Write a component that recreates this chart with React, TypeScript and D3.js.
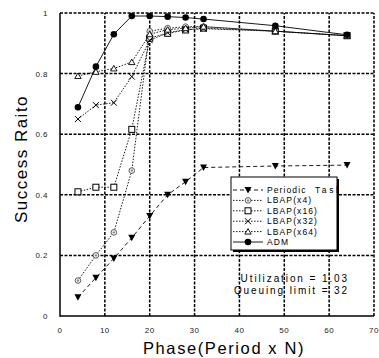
import React from "react";
import * as d3 from "d3";

const phases = [4, 8, 12, 16, 20, 24, 28, 32, 48, 64];
const periodicTask = [0.062, 0.126, 0.19, 0.258, 0.33, 0.4, 0.443, 0.49, 0.495, 0.498];
const lbapX4 = [0.117, 0.2, 0.276, 0.48, 0.94, 0.95, 0.955, 0.955, 0.94, 0.925];
const lbapX16 = [0.41, 0.425, 0.425, 0.616, 0.917, 0.933, 0.944, 0.95, 0.94, 0.925];
const lbapX32 = [0.65, 0.696, 0.704, 0.79, 0.91, 0.935, 0.945, 0.948, 0.94, 0.925];
const lbapX64 = [0.792, 0.806, 0.817, 0.838, 0.93, 0.945, 0.95, 0.955, 0.94, 0.925];
const adm = [0.689, 0.823, 0.93, 0.99, 0.99, 0.988, 0.985, 0.98, 0.958, 0.928];

const xTicks = [0, 10, 20, 30, 40, 50, 60, 70];
const yTicks = [0, 0.2, 0.4, 0.6, 0.8, 1];
const yTickLabels = ["0", "0.2", "0.4", "0.6", "0.8", "1"];

const seriesNames = ["Periodic Task", "LBAP(x4)", "LBAP(x16)", "LBAP(x32)", "LBAP(x64)", "ADM"];
const seriesValues = [periodicTask, lbapX4, lbapX16, lbapX32, lbapX64, adm];
const seriesMarkers = ["triDown", "circleDot", "square", "cross", "triUp", "circleFill"];
const seriesDash = ["4,3", "1.5,1.5", "1.5,1.5", "1.5,1.5", "1.5,1.5", null];

const FONT = "'Liberation Sans', Arial, sans-serif";

function Marker({ type, x, y }: { type: string; x: number; y: number }) {
  const s = 3;
  switch (type) {
    case "triDown":
      return <path d={`M${x - 3.5},${y - 3} L${x + 3.5},${y - 3} L${x},${y + 3.5} Z`} fill="#000" />;
    case "triUp":
      return <path d={`M${x - 3.2},${y + 2.5} L${x + 3.2},${y + 2.5} L${x},${y - 3} Z`} fill="#fff" stroke="#000" strokeWidth={0.9} />;
    case "square":
      return <rect x={x - s} y={y - s} width={2 * s} height={2 * s} fill="#fff" stroke="#000" strokeWidth={1} />;
    case "cross":
      return (
        <path d={`M${x - 3},${y - 3} L${x + 3},${y + 3} M${x - 3},${y + 3} L${x + 3},${y - 3}`} stroke="#000" strokeWidth={1} />
      );
    case "circleDot":
      return (
        <g>
          <circle cx={x} cy={y} r={2.8} fill="#fff" stroke="#555" strokeWidth={1} />
          <circle cx={x} cy={y} r={1.2} fill="#888" />
        </g>
      );
    case "circleFill":
    default:
      return <circle cx={x} cy={y} r={3.3} fill="#000" />;
  }
}

export default function App() {
  const width = 379;
  const height = 358;
  const x = d3.scaleLinear().domain([0, 70]).range([60, 374]);
  const y = d3.scaleLinear().domain([0, 1]).range([316, 13]);
  const line = d3
    .line<[number, number]>()
    .x((d) => x(d[0]))
    .y((d) => y(d[1]));

  const gridStyle = { stroke: "#000", strokeWidth: 1.5, strokeDasharray: "3,1.5" };

  const legendX = 231;
  const legendY = 177;
  const legendW = 106;
  const legendH = 73;
  const rowY = (i: number) => 190 + i * 10.4;

  return (
    <svg width={width} height={height} style={{ position: "absolute", left: 0, top: 0 }} fontFamily={FONT}>
      <rect x={0} y={0} width={width} height={height} fill="#fff" />
      <defs>
        <clipPath id="legendClip">
          <rect x={legendX} y={legendY} width={legendW} height={legendH} />
        </clipPath>
      </defs>

      {/* annotation text (under grid) */}
      <g fontSize={10} fill="#000" textAnchor="end" letterSpacing={1.9}>
        <text x={349} y={282}>Utilization = 1.03</text>
        <text x={349} y={294}>Queuing limit = 32</text>
      </g>

      {/* grid */}
      {xTicks.slice(1, -1).map((t) => (
        <line key={"gx" + t} x1={x(t)} x2={x(t)} y1={y(0)} y2={y(1)} {...gridStyle} />
      ))}
      {yTicks.slice(1, -1).map((t) => (
        <line key={"gy" + t} x1={x(0)} x2={x(70)} y1={y(t)} y2={y(t)} {...gridStyle} />
      ))}
      {/* frame */}
      <line x1={x(0)} x2={x(70)} y1={y(1)} y2={y(1)} {...gridStyle} />
      <line x1={x(70)} x2={x(70)} y1={y(0)} y2={y(1)} {...gridStyle} />
      <line x1={x(0)} x2={x(0)} y1={y(0) + 0.75} y2={y(1)} stroke="#000" strokeWidth={1.5} />
      <line x1={x(0)} x2={x(70)} y1={y(0)} y2={y(0)} stroke="#000" strokeWidth={1.5} />

      {/* tick labels */}
      <g fontSize={8} fill="#222" letterSpacing={0.5}>
        {yTicks.map((t, i) => (
          <text key={"yl" + t} x={48} y={y(t) + 3} textAnchor="end">
            {yTickLabels[i]}
          </text>
        ))}
        {xTicks.map((t) => (
          <text key={"xl" + t} x={x(t)} y={333} textAnchor="middle">
            {t}
          </text>
        ))}
      </g>

      {/* series */}
      {seriesValues.map((vals, si) => {
        const pts = phases.map((p, i) => [p, vals[i]] as [number, number]);
        return (
          <g key={"s" + si}>
            <path
              d={line(pts) || ""}
              fill="none"
              stroke="#000"
              strokeWidth={0.9}
              strokeDasharray={seriesDash[si] || undefined}
            />
            {pts.map((p, i) => (
              <Marker key={i} type={seriesMarkers[si]} x={x(p[0])} y={y(p[1])} />
            ))}
          </g>
        );
      })}

      {/* legend */}
      <rect x={legendX + 2} y={legendY + 2} width={legendW} height={legendH} fill="#000" />
      <rect x={legendX} y={legendY} width={legendW} height={legendH} fill="#fff" stroke="#000" strokeWidth={1} />
      <g clipPath="url(#legendClip)">
        {seriesNames.map((name, i) => {
          const words = name.split(" ");
          return (
            <g key={"lg" + i}>
              <line
                x1={233}
                x2={263}
                y1={rowY(i)}
                y2={rowY(i)}
                stroke="#000"
                strokeWidth={0.9}
                strokeDasharray={seriesDash[i] || undefined}
              />
              <Marker type={seriesMarkers[i]} x={248} y={rowY(i)} />
              <text x={267} y={rowY(i) + 3} fontSize={8.5} letterSpacing={1.1} fill="#000">
                {words.length > 1 ? (
                  <>
                    <tspan>{words[0]} </tspan>
                    <tspan x={315} letterSpacing={2.6}>
                      {words.slice(1).join(" ")}
                    </tspan>
                  </>
                ) : (
                  name
                )}
              </text>
            </g>
          );
        })}
      </g>

      {/* axis titles */}
      <text x={224} y={354} textAnchor="middle" fontSize={16.5} letterSpacing={1.6} fill="#000">
        Phase(Period x N)
      </text>
      <text
        transform={`translate(27,159) rotate(-90)`}
        textAnchor="middle"
        fontSize={17}
        letterSpacing={1.5}
        fill="#000"
      >
        Success Raito
      </text>
    </svg>
  );
}
